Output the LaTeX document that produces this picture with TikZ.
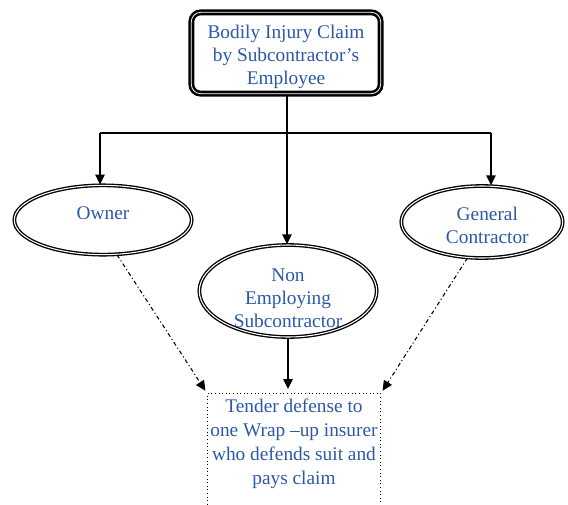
\documentclass[tikz,border=0pt]{standalone}
\usepackage{fontspec}
\setmainfont{Liberation Serif}
\usetikzlibrary{arrows.meta,shapes.geometric}
\definecolor{txtblue}{RGB}{44,88,168}
% centred block of lines, shifted vertically by #1 without changing the node size
\newcommand{\lines}[2]{\raisebox{#1}[0pt][0pt]{\begin{tabular}{@{}c@{}}#2\end{tabular}}}
\begin{document}
\begin{tikzpicture}[x=0.75pt,y=-0.75pt,
  every node/.style={font=\fontsize{14.5pt}{17.5pt}\selectfont, text=txtblue, align=center},
  claimbox/.style={draw, rounded corners=7pt, line width=1.9pt, double=white, double distance=0.6pt,
    minimum width=142pt, minimum height=61pt, inner sep=0pt},
  party/.style={ellipse, draw, line width=1pt, double=white, double distance=0.8pt, inner sep=0pt},
  tenderbox/.style={draw, dotted, line width=0.7pt, inner sep=0pt, anchor=north},
  link/.style={line width=1.1pt},
  arr/.style={link, -{Triangle[length=7.5pt,width=7pt]}},
  dasharr/.style={line width=0.8pt, dash dot, -{Triangle[length=7.5pt,width=7pt]}, shorten >=2pt}
]
\useasboundingbox (0,0) rectangle (568,504);

\node[claimbox] (claim) at (286,53)
  {\lines{-6.5pt}{\def\arraystretch{1.15}Bodily Injury Claim\\by Subcontractor's\\Employee}};

\node[party, minimum width=133pt, minimum height=52pt] (owner) at (103,220) {\raisebox{11pt}{Owner}};
\node[party, minimum width=133pt, minimum height=69pt] (nes) at (288,291)
  {\lines{-10.2pt}{\def\arraystretch{1.2}Non\\Employing\\Subcontractor}};
\node[party, minimum width=121pt, minimum height=54pt] (gc) at (482,222)
  {\lines{-7.5pt}{\def\arraystretch{1.2}\hspace*{8pt}General\\\hspace*{8pt}Contractor}};

\node[tenderbox] (tender) at (294,393)
  {\parbox[t][92pt][t]{130pt}{\centering\baselineskip=18pt\vspace{4pt}Tender defense to\\one Wrap \textendash up insurer\\who defends suit and\\pays claim}};

% distribution from the claim to the three parties
\coordinate (j) at (287,133);
\coordinate (jl) at (100,133);
\coordinate (jr) at (491,133);
\draw[link] (claim.south -| j) -- (j);
\draw[link] (jl) -- (jr);
\draw[arr] (jl) -- (jl |- owner.north);
\draw[arr] (j) -- (j |- nes.north);
\draw[arr] (jr) -- (jr |- gc.north);

% all parties tender to the wrap-up insurer
\draw[dasharr] (owner.-68) -- (tender.north west);
\draw[dasharr] (gc.-112) -- (tender.north east);
\draw[arr, shorten >=3pt] (nes.south) -- (nes.south |- tender.north);
\end{tikzpicture}
\end{document}
